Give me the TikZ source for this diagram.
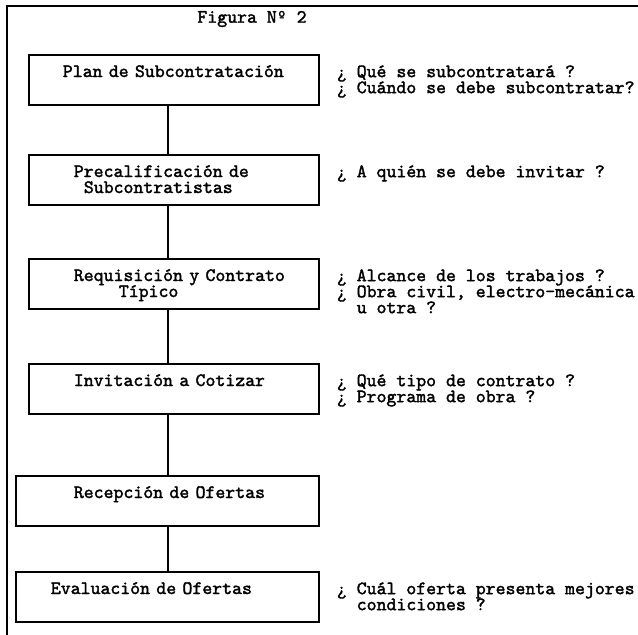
\documentclass[tikz,border=0pt]{standalone}
\font\maquinafont="[lmmono10-regular.otf]:embolden=1.8" at 18.9pt
\newcommand{\maquina}{\fontsize{18.9}{12}\selectfont\maquinafont\lineskiplimit=-20pt}
\newcommand{\arriba}{\rule{0pt}{15pt}}
\newcommand{\abajo}{\rule[-5pt]{0pt}{5pt}}
\newcommand{\renglon}{\\[4pt]}
\tikzset{
  caja/.style={draw,line width=1.7pt,font=\maquina,inner sep=0pt,minimum height=50pt,text width=290pt,align=left,anchor=west},
  cajaancha/.style={caja,text width=303pt},
  nota/.style={font=\maquina,inner sep=0pt,align=left,anchor=north west},
  union/.style={line width=1.4pt}
}
\begin{document}
\begin{tikzpicture}[x=1pt,y=-1pt]
\useasboundingbox (0,0) rectangle (638,635);
%marco de la hoja
\draw[line width=1.8pt] (638,6) -- (7,6) -- (7,635);
\node[font=\maquina] (titulo) at (252,19) {Figura Nº 2};

\node[caja] (b1) at (28,80) {\arriba\hspace*{34pt}Plan de Subcontratación\renglon\abajo};
\node[caja] (b2) at (28,180) {\arriba\hspace*{45pt}Precalificación de\renglon\hspace*{55pt}Subcontratistas\abajo};
\node[caja] (b3) at (28,284) {\arriba\hspace*{45pt}Requisición y Contrato\renglon\hspace*{90pt}Típico\abajo};
\node[caja] (b4) at (28,389) {\arriba\hspace*{45pt}Invitación a Cotizar\renglon\abajo};
\node[cajaancha] (b5) at (15,501) {\arriba\hspace*{58pt}Recepción de Ofertas\renglon\abajo};
\node[cajaancha] (b6) at (15,597) {\arriba\hspace*{35pt}Evaluación de Ofertas\renglon\abajo};

\node[nota] (n1) at ([xshift=17pt,yshift=18pt]b1.east) {\arriba¿ Qué se subcontratará ?\renglon¿ Cuándo se debe subcontratar?};
\node[nota] (n2) at ([xshift=17pt,yshift=18pt]b2.east) {\arriba¿ A quién se debe invitar ?};
\node[nota] (n3) at ([xshift=17pt,yshift=18pt]b3.east) {\arriba¿ Alcance de los trabajos ?\renglon¿ Obra civil, electro-mecánica\renglon\hphantom{¿ }u otra ?};
\node[nota] (n4) at ([xshift=17pt,yshift=18pt]b4.east) {\arriba¿ Qué tipo de contrato ?\renglon¿ Programa de obra ?};
\node[nota] (n6) at ([xshift=17pt,yshift=18pt]b6.east) {\arriba¿ Cuál oferta presenta mejores\renglon\hphantom{¿ }condiciones ?};

\coordinate (eje) at (168,0);
\draw[union] (b1.south -| eje) -- (b2.north -| eje);
\draw[union] (b2.south -| eje) -- (b3.north -| eje);
\draw[union] (b3.south -| eje) -- (b4.north -| eje);
\draw[union] (b4.south -| eje) -- (b5.north -| eje);
\draw[union] (b5.south -| eje) -- (b6.north -| eje);

\end{tikzpicture}
\end{document}
